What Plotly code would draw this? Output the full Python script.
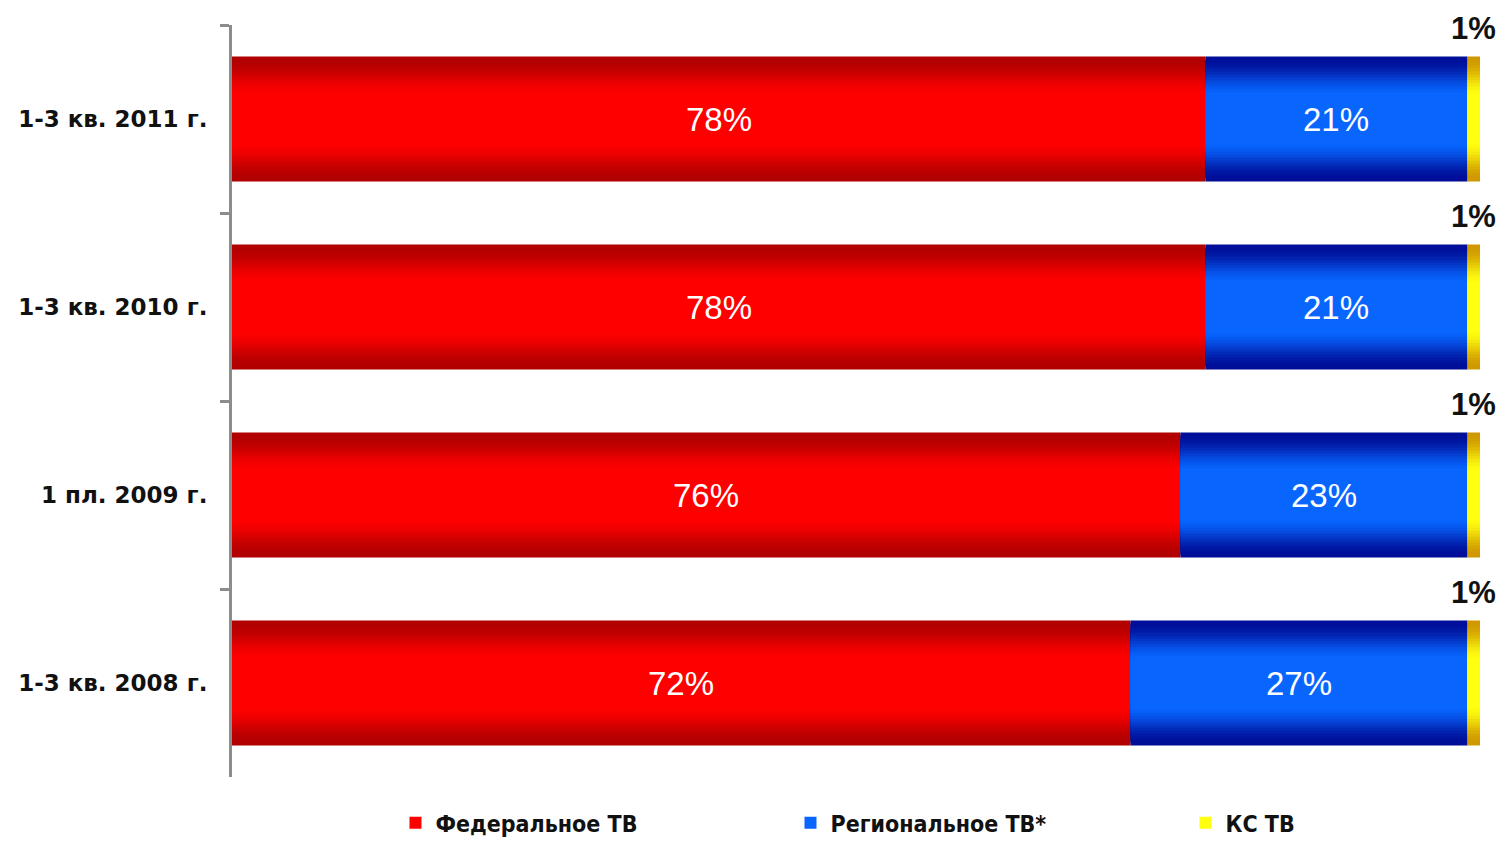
import plotly.graph_objects as go

# Periods, top to bottom
periods = ["1-3 кв. 2011 г.", "1-3 кв. 2010 г.", "1 пл. 2009 г.", "1-3 кв. 2008 г."]

# Shares of TV advertising budgets, %
federal = [78, 78, 76, 72]
regional = [21, 21, 23, 27]
ks_tv = [1, 1, 1, 1]

series_names = ["Федеральное ТВ", "Региональное ТВ*", "КС ТВ"]

# Edge / centre colours for the glossy bar gradient
RED = ("#b20000", "#ff0000")
BLUE = ("#000e98", "#0866ff")
YELLOW = ("#cf9800", "#ffff10")

BAR_W = 0.665
LAYERS = 14


def hex_to_rgb(h):
    h = h.lstrip("#")
    return tuple(int(h[i:i + 2], 16) for i in (0, 2, 4))


def mix(c1, c2, t):
    a, b = hex_to_rgb(c1), hex_to_rgb(c2)
    return "rgb({},{},{})".format(*[round(a[i] + (b[i] - a[i]) * t) for i in range(3)])


fig = go.Figure()

series = [
    (series_names[0], federal, RED),
    (series_names[1], regional, BLUE),
    (series_names[2], ks_tv, YELLOW),
]

bases = [0] * len(periods)
segment_info = []
for name, vals, (edge, centre) in series:
    # nested bars of shrinking thickness give a vertical light-to-dark gradient
    for k in range(LAYERS):
        frac = 1 - 0.62 * k / (LAYERS - 1)
        t = k / (LAYERS - 1)
        t = t * t * (3 - 2 * t)
        fig.add_trace(go.Bar(
            y=periods,
            x=vals,
            base=bases,
            orientation="h",
            width=BAR_W * frac,
            marker=dict(color=mix(edge, centre, t), line=dict(width=0)),
            name=name,
            showlegend=(k == LAYERS - 1),
            legendgroup=name,
            hoverinfo="skip",
        ))
    segment_info.append((name, vals, list(bases)))
    bases = [b + v for b, v in zip(bases, vals)]

annotations = []
# value labels inside the federal and regional segments
for name, vals, seg_base in segment_info[:2]:
    for p, v, b in zip(periods, vals, seg_base):
        annotations.append(dict(
            x=b + v / 2, y=p, xref="x", yref="y",
            text=f"{v}%", showarrow=False,
            font=dict(family="Liberation Sans, Arial, sans-serif", size=33, color="white"),
        ))
# small cable/satellite share labelled above the bar end
name, vals, seg_base = segment_info[2]
for p, v, b in zip(periods, vals, seg_base):
    annotations.append(dict(
        x=b + v / 2, y=p, xref="x", yref="y",
        text=f"<b>{v}%</b>", showarrow=False, yshift=91,
        font=dict(family="Liberation Sans, Arial, sans-serif", size=31, color="#111111"),
    ))

fig.update_layout(
    barmode="overlay",
    width=1511,
    height=841,
    margin=dict(l=232, r=31, t=25, b=64, autoexpand=False),
    paper_bgcolor="white",
    plot_bgcolor="white",
    annotations=annotations,
    showlegend=True,
    legend=dict(
        orientation="h",
        x=0.131, xanchor="left",
        y=-0.061, yanchor="middle",
        entrywidth=350, entrywidthmode="pixels",
        font=dict(family="Liberation Sans Narrow, DejaVu Sans Condensed, sans-serif",
                  size=23, color="#111111", weight="bold"),
        itemwidth=30,
        bgcolor="rgba(0,0,0,0)",
    ),
    xaxis=dict(range=[0, 100], visible=False, fixedrange=True),
    yaxis=dict(
        type="category",
        categoryorder="array",
        categoryarray=periods,
        range=[len(periods) - 0.5, -0.5],
        showline=True, linecolor="#8c8c8c", linewidth=3,
        ticks="outside", tickson="boundaries", ticklen=9, tickwidth=3, tickcolor="#8c8c8c",
        ticklabelstandoff=17,
        showgrid=False, zeroline=False,
        tickfont=dict(family="DejaVu Sans, Verdana, sans-serif", size=23,
                      color="#111111", weight="bold"),
        fixedrange=True,
    ),
)

fig.write_html("out.html")
